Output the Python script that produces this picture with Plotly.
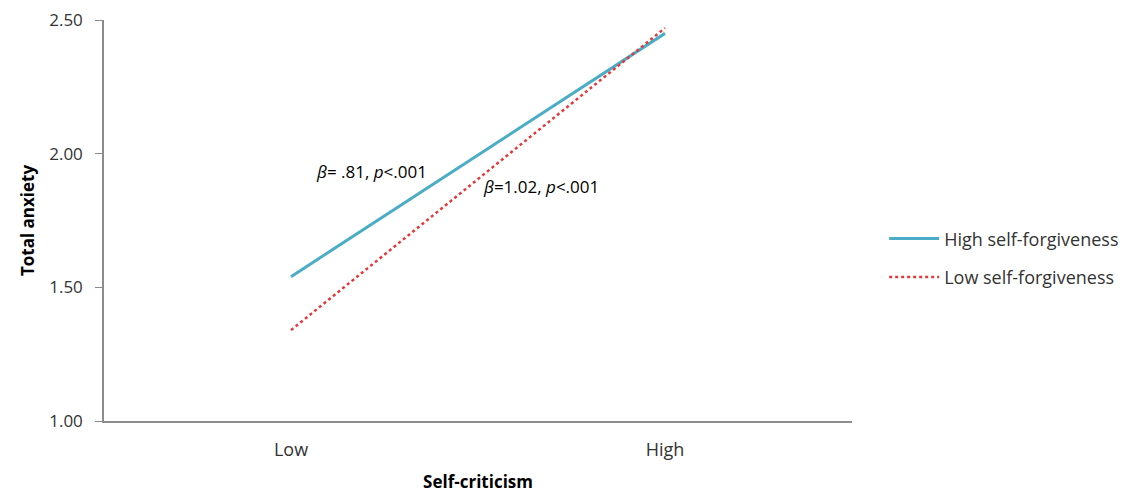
import plotly.graph_objects as go

categories = ["Low", "High"]
high_sf = [1.54, 2.45]
low_sf = [1.34, 2.47]
series_names = ["High self-forgiveness", "Low self-forgiveness"]
y_ticks = [1.0, 1.5, 2.0, 2.5]
y_tick_labels = ["1.00", "1.50", "2.00", "2.50"]

FONT = "Open Sans"
TXT = "#333333"
fig = go.Figure()
fig.add_trace(go.Scatter(x=categories, y=high_sf, mode="lines", name=series_names[0],
                         legendgroup="a",
                         line=dict(color="#4bacc6", width=3)))
fig.add_trace(go.Scatter(x=categories, y=low_sf, mode="lines", name=series_names[1],
                         legendgroup="b",
                         line=dict(color="#e3393a", width=2.5, dash="dot")))

fig.add_annotation(x=0.358, y=0.622, xref="paper", yref="paper", showarrow=False,
                   text="<i>β</i>= .81, <i>p</i>&lt;.001", font=dict(family=FONT, size=17, color="#000"))
fig.add_annotation(x=0.584, y=0.585, xref="paper", yref="paper", showarrow=False,
                   text="<i>β</i>=1.02, <i>p</i>&lt;.001", font=dict(family=FONT, size=17, color="#000"))

fig.update_layout(
    width=1125, height=486,
    margin=dict(l=96, r=281, t=12, b=73, autoexpand=False),
    paper_bgcolor="white", plot_bgcolor="white",
    font=dict(family=FONT, size=18, color=TXT),
    showlegend=True,
    legend=dict(x=1.043, y=0.407, xanchor="left", yanchor="middle",
                font=dict(family=FONT, size=18, color=TXT),
                tracegroupgap=12, itemwidth=50, bgcolor="rgba(0,0,0,0)"),
    xaxis=dict(type="category", range=[-0.5, 1.5], showgrid=False, showline=True,
               linecolor="#8c8c8c", linewidth=1.5, ticks="", zeroline=False,
               ticklabelstandoff=12, automargin=False,
               tickfont=dict(family=FONT, size=18, color=TXT),
               title=dict(text="<b>Self-criticism</b>", font=dict(family=FONT, size=17, color="#000"), standoff=16)),
    yaxis=dict(range=[1.0, 2.5], tickvals=y_ticks, ticktext=y_tick_labels, showgrid=False,
               showline=True, linecolor="#8c8c8c", linewidth=1.5, ticks="outside", ticklen=7,
               tickcolor="#8c8c8c", zeroline=False, ticklabelstandoff=9,
               ticklabeloverflow="allow", automargin=False,
               tickfont=dict(family=FONT, size=17, color=TXT),
               title=dict(text="<b>Total anxiety</b>", font=dict(family=FONT, size=17, color="#000"), standoff=10)),
)
fig.write_html("out.html")
